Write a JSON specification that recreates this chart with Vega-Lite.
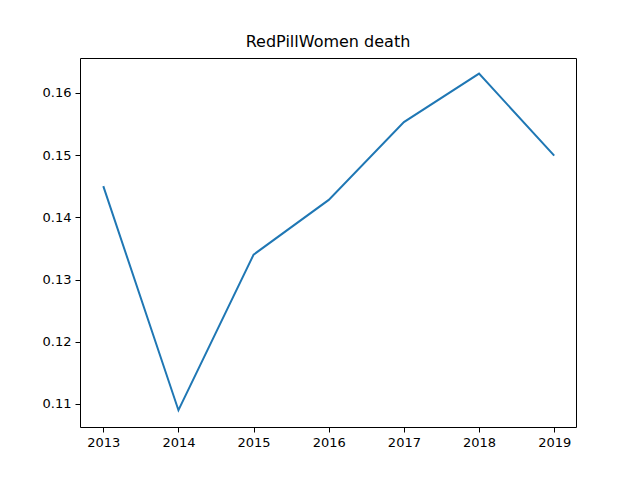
{
  "$schema": "https://vega.github.io/schema/vega-lite/v6.json",
  "width": 496,
  "height": 369,
  "autosize": {"type": "none"},
  "padding": {"left": 80, "top": 58, "right": 64, "bottom": 53},
  "background": "white",
  "title": {"text": "RedPillWomen death", "font": "DejaVu Sans", "fontSize": 16, "fontWeight": "normal", "offset": 8, "color": "black"},
  "config": {
    "view": {"stroke": "black", "strokeWidth": 1},
    "axis": {"grid": false, "domain": false, "tickColor": "black", "tickSize": 5, "labelFont": "DejaVu Sans", "labelFontSize": 13, "labelColor": "black", "title": null, "labelPadding": 4}
  },
  "data": {"values": [
    {"year": 2013, "value": 0.1450},
    {"year": 2014, "value": 0.1090},
    {"year": 2015, "value": 0.1340},
    {"year": 2016, "value": 0.1428},
    {"year": 2017, "value": 0.1553},
    {"year": 2018, "value": 0.1631},
    {"year": 2019, "value": 0.1499}
  ]},
  "mark": {"type": "line", "color": "#1f77b4", "strokeWidth": 2},
  "encoding": {
    "x": {"field": "year", "type": "quantitative", "scale": {"domain": [2012.69, 2019.29], "nice": false, "zero": false},
      "axis": {"values": [2013, 2014, 2015, 2016, 2017, 2018, 2019], "format": "d"}},
    "y": {"field": "value", "type": "quantitative", "scale": {"domain": [0.1063, 0.1656], "nice": false, "zero": false},
      "axis": {"values": [0.11, 0.12, 0.13, 0.14, 0.15, 0.16], "format": ".2f"}}
  }
}
